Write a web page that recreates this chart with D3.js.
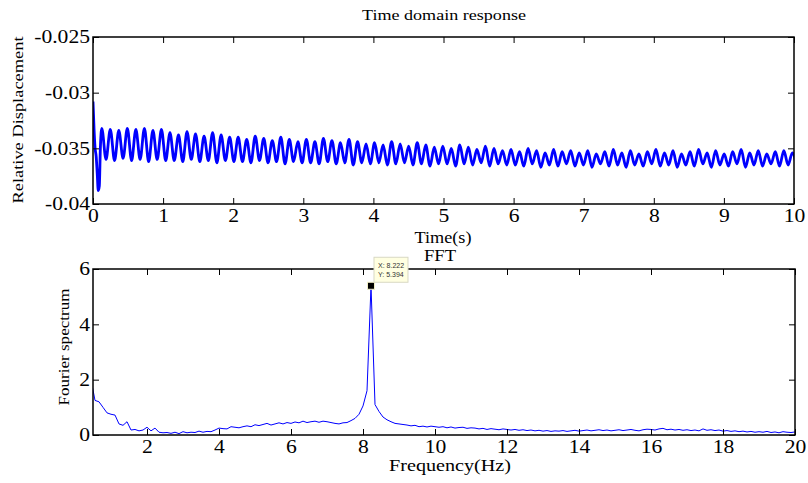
<!DOCTYPE html>
<html>
<head>
<meta charset="utf-8">
<script src="https://cdn.jsdelivr.net/npm/d3@7"></script>
<style>
  body { margin: 0; background: #fff; }
  svg { display: block; font-family: "Times New Roman", "Liberation Serif", Times, serif; }
</style>
</head>
<body>
<svg id="chart" width="808" height="483"></svg>
<script>
// ---- time domain data ----
// start-up transient (s, relative displacement)
const transTime = [0, 0.015, 0.03, 0.045, 0.06, 0.075, 0.09, 0.105];
const transDisp = [-0.0308, -0.0333, -0.0350, -0.0357, -0.0372, -0.0388, -0.0384, -0.0350];
// oscillation at the FFT peak frequency: one crest and one trough per cycle
const peakFreq = 8.222;
const cycleStart = 0.125;
const crests = [
  -0.0332, -0.0333, -0.0334, -0.0332, -0.0333, -0.0332, -0.0334, -0.0333,
  -0.0336, -0.0338, -0.0335, -0.0337, -0.0339, -0.0336, -0.0338, -0.0340,
  -0.0340, -0.0342, -0.0339, -0.0341, -0.0343, -0.0340, -0.0342, -0.0344,
  -0.0342, -0.0344, -0.0341, -0.0343, -0.0345, -0.0342, -0.0344, -0.0346,
  -0.0345, -0.0347, -0.0344, -0.0346, -0.0348, -0.0345, -0.0347, -0.0349,
  -0.0348, -0.0350, -0.0347, -0.0349, -0.0351, -0.0348, -0.0350, -0.0352,
  -0.0351, -0.0353, -0.0350, -0.0352, -0.0354, -0.0351, -0.0353, -0.0352,
  -0.0354, -0.0352, -0.0355, -0.0353, -0.0351, -0.0354, -0.0352, -0.0355,
  -0.0353, -0.0351, -0.0354, -0.0352, -0.0355, -0.0353, -0.0351, -0.0354,
  -0.0352, -0.0355, -0.0353, -0.0351, -0.0354, -0.0352, -0.0355, -0.0353, -0.0352, -0.0354
];
const troughs = [
  -0.0360, -0.0361, -0.0359, -0.0361, -0.0360, -0.0362, -0.0360, -0.0361,
  -0.0361, -0.0362, -0.0360, -0.0362, -0.0361, -0.0363, -0.0361, -0.0362,
  -0.0362, -0.0363, -0.0361, -0.0363, -0.0362, -0.0364, -0.0362, -0.0363,
  -0.0363, -0.0364, -0.0362, -0.0364, -0.0363, -0.0365, -0.0363, -0.0364,
  -0.0363, -0.0365, -0.0364, -0.0363, -0.0365, -0.0364, -0.0366, -0.0364,
  -0.0364, -0.0366, -0.0364, -0.0365, -0.0363, -0.0366, -0.0364, -0.0365,
  -0.0365, -0.0366, -0.0364, -0.0367, -0.0365, -0.0366, -0.0364, -0.0366,
  -0.0365, -0.0367, -0.0364, -0.0366, -0.0365, -0.0367, -0.0365, -0.0366,
  -0.0364, -0.0366, -0.0365, -0.0367, -0.0365, -0.0366, -0.0364, -0.0367,
  -0.0365, -0.0366, -0.0364, -0.0367, -0.0365, -0.0366, -0.0364, -0.0366, -0.0365, -0.0367
];
const timeTicks = [0, 1, 2, 3, 4, 5, 6, 7, 8, 9, 10];
const dispTicks = [-0.04, -0.035, -0.03, -0.025];
const dispTickLabels = ['-0.04', '-0.035', '-0.03', '-0.025'];

// ---- FFT data: bins of 1/9 Hz, starting at bin 4 ----
const binWidth = 1 / 9;
const firstBin = 4;
const fftAmp = [
  2.0, 1.25, 1.2, 1.0, 0.8, 0.75, 0.72, 0.4, 0.35,
  0.48, 0.18, 0.2, 0.15, 0.18, 0.28, 0.15, 0.25, 0.1,
  0.08, 0.09, 0.06, 0.1, 0.05, 0.12, 0.08, 0.1, 0.09,
  0.14, 0.1, 0.13, 0.12, 0.18, 0.25, 0.23, 0.22, 0.3,
  0.28, 0.26, 0.3, 0.33, 0.3, 0.37, 0.34, 0.38, 0.42,
  0.36, 0.4, 0.44, 0.4, 0.45, 0.42, 0.47, 0.44, 0.5,
  0.45, 0.48, 0.5, 0.46, 0.5, 0.48, 0.45, 0.42, 0.4,
  0.44, 0.45, 0.52, 0.6, 0.75, 1.05, 1.6, 5.394, 1.1,
  0.85, 0.65, 0.55, 0.48, 0.42, 0.4, 0.38, 0.36, 0.33,
  0.35, 0.3, 0.32, 0.29, 0.32, 0.3,
  0.28, 0.3, 0.26, 0.29, 0.25, 0.27, 0.28, 0.24, 0.26,
  0.25, 0.22, 0.24, 0.2, 0.23, 0.21, 0.19, 0.22, 0.2,
  0.18, 0.2, 0.17, 0.19, 0.16, 0.18, 0.15, 0.17, 0.14,
  0.16, 0.13, 0.15, 0.14, 0.16, 0.13, 0.15, 0.17, 0.14,
  0.16, 0.18, 0.15, 0.17, 0.19, 0.16, 0.18, 0.15, 0.17,
  0.19, 0.16, 0.18, 0.2, 0.17, 0.15, 0.19, 0.21, 0.2,
  0.18, 0.22, 0.24, 0.19, 0.21, 0.18, 0.2, 0.17, 0.19,
  0.16, 0.18, 0.15, 0.22, 0.17, 0.19, 0.16, 0.18, 0.14,
  0.16, 0.13, 0.15, 0.12, 0.14, 0.11, 0.13, 0.1, 0.12,
  0.1, 0.13, 0.09, 0.11, 0.08, 0.12, 0.1, 0.09, 0.11
];
const freqTicks = [2, 4, 6, 8, 10, 12, 14, 16, 18, 20];
const ampTicks = [0, 2, 4, 6];
const dataTip = { f: 8.222, a: 5.394 };

// ---- build point lists ----
const period = 1 / peakFreq;
const timeSeries = transTime.map((t, i) => ({ x: t, y: transDisp[i] }));
crests.forEach((c, k) => {
  timeSeries.push({ x: cycleStart + k * period, y: c });
  timeSeries.push({ x: cycleStart + (k + 0.5) * period, y: troughs[k] });
});
const fftSeries = fftAmp.map((a, i) => ({ x: (firstBin + i) * binWidth, y: a }));

const svg = d3.select('#chart');

// MATLAB's serif renders wider than Liberation Serif
function stretch(sel, k) {
  sel.each(function () {
    const len = this.getComputedTextLength();
    d3.select(this).attr('textLength', len * k).attr('lengthAdjust', 'spacingAndGlyphs');
  });
}

function panel(cfg) {
  const x = d3.scaleLinear().domain(cfg.xDomain).range([cfg.left, cfg.right]);
  const y = d3.scaleLinear().domain(cfg.yDomain).range([cfg.bottom, cfg.top]);
  const g = svg.append('g');

  g.append('clipPath').attr('id', cfg.id)
    .append('rect')
    .attr('x', cfg.left).attr('y', cfg.top)
    .attr('width', cfg.right - cfg.left).attr('height', cfg.bottom - cfg.top);

  const line = d3.line().x(d => x(d.x)).y(d => y(d.y)).curve(cfg.curve || d3.curveLinear);
  g.append('path')
    .datum(cfg.data)
    .attr('clip-path', `url(#${cfg.id})`)
    .attr('fill', 'none')
    .attr('stroke', '#0000ff')
    .attr('stroke-width', cfg.lineWidth)
    .attr('stroke-linejoin', 'round')
    .attr('d', line);

  // inward ticks on all four sides
  const bottomAxis = g.append('g')
    .attr('transform', `translate(0,${cfg.bottom})`)
    .call(d3.axisBottom(x).tickValues(cfg.xTicks).tickFormat(d => d).tickSize(-6).tickPadding(5));
  g.append('g')
    .attr('transform', `translate(0,${cfg.top})`)
    .call(d3.axisTop(x).tickValues(cfg.xTicks).tickFormat('').tickSize(-6));
  const leftAxis = g.append('g')
    .attr('transform', `translate(${cfg.left},0)`)
    .call(d3.axisLeft(y).tickValues(cfg.yTicks).tickFormat(cfg.yFormat).tickSize(-6).tickPadding(3));
  g.append('g')
    .attr('transform', `translate(${cfg.right},0)`)
    .call(d3.axisRight(y).tickValues(cfg.yTicks).tickFormat('').tickSize(-6));

  g.selectAll('.domain').remove();
  g.selectAll('.tick line').attr('stroke', '#000').attr('stroke-width', 1);
  g.selectAll('g').attr('font-family', null).attr('font-size', null);
  g.selectAll('.tick text').attr('fill', '#000').style('font-size', '18px');
  stretch(bottomAxis.selectAll('.tick text'), 1.2);
  stretch(leftAxis.selectAll('.tick text'), 1.2);

  g.append('rect')
    .attr('x', cfg.left).attr('y', cfg.top)
    .attr('width', cfg.right - cfg.left).attr('height', cfg.bottom - cfg.top)
    .attr('fill', 'none').attr('stroke', '#000').attr('stroke-width', 1.5);

  return { x, y, g };
}

function label(text, x, y, size, length, rotate) {
  svg.append('text')
    .attr('transform', `translate(${x},${y})` + (rotate ? ' rotate(-90)' : ''))
    .attr('text-anchor', 'middle')
    .style('font-size', size + 'px')
    .attr('textLength', length)
    .attr('lengthAdjust', 'spacingAndGlyphs')
    .text(text);
}

// ---- time domain panel ----
panel({
  id: 'clipTop', left: 93, right: 794, top: 37, bottom: 204,
  xDomain: [0, 10], yDomain: [-0.04, -0.025],
  xTicks: timeTicks, yTicks: dispTicks,
  yFormat: (d, i) => dispTickLabels[i],
  data: timeSeries, lineWidth: 2.8, curve: d3.curveMonotoneX
});

// ---- FFT panel ----
const fft = panel({
  id: 'clipBottom', left: 93, right: 795, top: 269, bottom: 435,
  xDomain: [0.5, 20], yDomain: [0, 6],
  xTicks: freqTicks, yTicks: ampTicks,
  yFormat: d => d,
  data: fftSeries, lineWidth: 1
});

// data tip on the spectral peak
const mx = fft.x(dataTip.f), my = fft.y(dataTip.a);
fft.g.append('rect')
  .attr('x', mx - 3.5).attr('y', my - 3.5).attr('width', 7).attr('height', 7)
  .attr('fill', '#000').attr('stroke', '#f2f0c8').attr('stroke-width', 1);
const tip = fft.g.append('g').attr('transform', `translate(${mx + 3},${my - 28.5})`);
tip.append('rect')
  .attr('width', 34).attr('height', 25)
  .attr('fill', '#ffffe1').attr('stroke', '#d8d8c4').attr('stroke-width', 1);
tip.selectAll('text')
  .data([`X: ${dataTip.f}`, `Y: ${dataTip.a}`])
  .join('text')
  .attr('x', 4).attr('y', (d, i) => 10.5 + i * 9)
  .style('font-family', '"Liberation Sans", Arial, sans-serif')
  .style('font-size', '7px')
  .attr('fill', '#333')
  .text(d => d);

// ---- titles and axis labels ----
label('Time domain response', 444, 20, 15, 164);
label('Time(s)', 443, 243, 16.5, 57);
label('Relative Displacement', 23, 120, 14.5, 167, true);
label('FFT', 440, 261, 17, 32);
label('Frequency(Hz)', 450, 471, 16.5, 122);
label('Fourier spectrum', 69, 347, 14.5, 117, true);
</script>
</body>
</html>
